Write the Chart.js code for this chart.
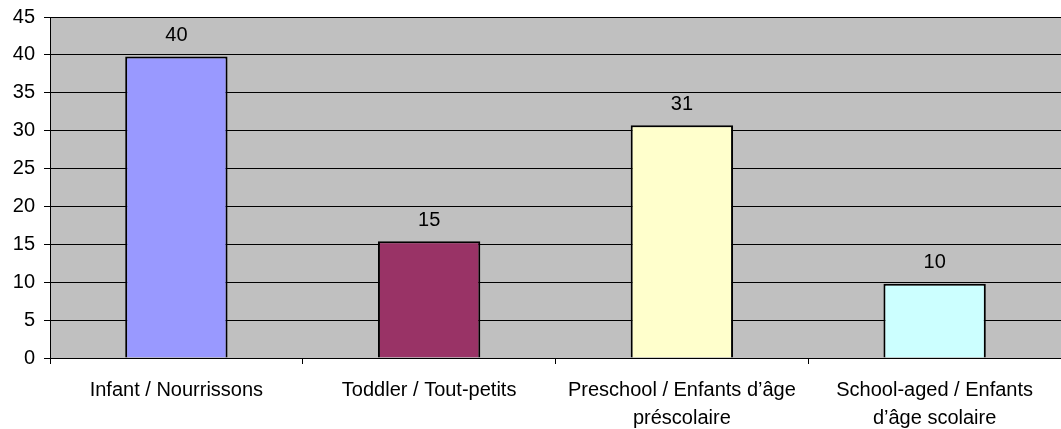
<!DOCTYPE html>
<html lang="en">
<head>
    <meta charset="UTF-8">
    <title>Age groups</title>
    <script src="https://cdn.jsdelivr.net/npm/chart.js"></script>
    <style>
        html, body { margin: 0; padding: 0; background: #fff; }
        #wrap { width: 1061px; height: 429px; }
    </style>
</head>
<body>
    <div id="wrap"><canvas id="chartCanvas"></canvas></div>
    <script>
        const categories = [
            ['Infant / Nourrissons'],
            ['Toddler / Tout-petits'],
            ['Preschool / Enfants d\u2019\u00e2ge', 'pr\u00e9scolaire'],
            ['School-aged / Enfants', 'd\u2019\u00e2ge scolaire']
        ];
        const values = [39.8, 15.4, 30.7, 9.8];
        const barColors = ['#9999FF', '#993366', '#FFFFCC', '#CCFFFF'];

        const FONT = '"Liberation Sans", Arial, sans-serif';

        // grey plot background
        const plotBackground = {
            id: 'plotBackground',
            beforeDraw(chart) {
                const { ctx, chartArea: a } = chart;
                ctx.save();
                ctx.fillStyle = '#C0C0C0';
                ctx.fillRect(a.left, a.top, a.right - a.left, a.bottom - a.top);
                ctx.restore();
            }
        };

        // rounded value above each bar
        const valueLabels = {
            id: 'valueLabels',
            afterDatasetsDraw(chart) {
                const ctx = chart.ctx;
                const meta = chart.getDatasetMeta(0);
                ctx.save();
                ctx.font = '20px ' + FONT;
                ctx.fillStyle = '#000';
                ctx.textAlign = 'center';
                ctx.textBaseline = 'middle';
                meta.data.forEach((bar, i) => {
                    ctx.fillText(Math.round(values[i]), bar.x, bar.y - 21);
                });
                ctx.restore();
            }
        };

        const ctx = document.getElementById('chartCanvas').getContext('2d');
        new Chart(ctx, {
            type: 'bar',
            data: {
                labels: categories,
                datasets: [{
                    data: values,
                    backgroundColor: barColors,
                    borderColor: '#000',
                    borderWidth: 2,
                    barPercentage: 0.405,
                    categoryPercentage: 1
                }]
            },
            options: {
                responsive: true,
                maintainAspectRatio: false,
                animation: false,
                layout: { padding: { top: 17, right: 0, left: 0, bottom: 0 } },
                plugins: { legend: { display: false }, tooltip: { enabled: false } },
                scales: {
                    x: {
                        grid: { offset: true, drawOnChartArea: false, color: '#000', tickLength: 6 },
                        border: { color: '#000', width: 1 },
                        ticks: {
                            color: '#000',
                            padding: 12,
                            maxRotation: 0,
                            autoSkip: false,
                            font: { family: FONT, size: 20, lineHeight: 1.4 }
                        },
                        afterFit(scale) { scale.height = 71; }
                    },
                    y: {
                        min: 0,
                        max: 45,
                        ticks: {
                            stepSize: 5,
                            color: '#000',
                            padding: 9,
                            font: { family: FONT, size: 20 }
                        },
                        grid: { color: '#000', tickLength: 6 },
                        border: { color: '#000', width: 1 },
                        afterFit(scale) {
                            scale.width = 50;
                            scale.paddingTop = 0;
                            scale.paddingBottom = 0;
                        }
                    }
                }
            },
            plugins: [plotBackground, valueLabels]
        });
    </script>
</body>
</html>
